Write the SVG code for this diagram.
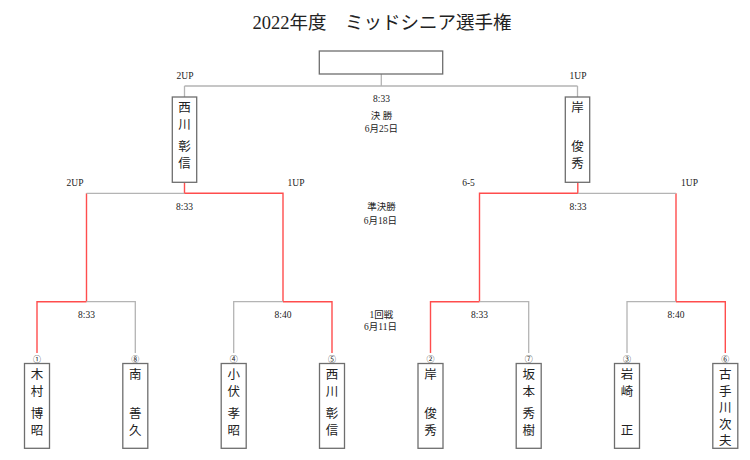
<svg xmlns="http://www.w3.org/2000/svg" width="750" height="460" viewBox="0 0 750 460">
<style>
.bg{fill:#ffffff}
.box{fill:#ffffff;stroke:#6e6e6e;stroke-width:1.3}
.win{stroke:#ff4d4d;stroke-width:1.4;fill:none}
.lose{stroke:#b4b4b4;stroke-width:1.3;fill:none}
.t{font-family:"Liberation Serif","Noto Sans CJK JP",serif;fill:#222;text-anchor:middle}
.title{font-size:18.5px}
.s{font-size:9.5px}
.num{font-size:8px}
.nm{font-family:"Noto Sans CJK JP",sans-serif;font-size:12.5px;fill:#222;text-anchor:middle;writing-mode:vertical-rl}
</style>
<rect class="bg" x="0" y="0" width="750" height="460"/>
<text class="t title" x="382" y="29">2022年度　ミッドシニア選手権</text>

<g id="connectors">
<path class="lose" d="M381.3 74V86M184.5 86H577.5M184.5 86V97M577.5 86V97"/>
<path class="win" d="M184.5 182.3V193.3H283V301.7M86.5 193.3V301.7"/>
<path class="lose" d="M86.5 193.3H184.5"/>
<path class="win" d="M577.8 182.3V193.3H479.5V301.7M676 193.3V301.7"/>
<path class="lose" d="M577.8 193.3H676"/>
<path class="win" d="M37 353V301.7H86.5"/>
<path class="lose" d="M86.5 301.7H135.3V353"/>
<path class="lose" d="M233.7 353V301.7H283"/>
<path class="win" d="M283 301.7H332V353"/>
<path class="win" d="M430.5 353V301.7H479.5"/>
<path class="lose" d="M479.5 301.7H528.7V353"/>
<path class="lose" d="M627 353V301.7H676"/>
<path class="win" d="M676 301.7H725.3V353"/>
</g>

<g id="labels">
<text class="t s" x="185" y="78.5">2UP</text>
<text class="t s" x="578" y="78.5">1UP</text>
<text class="t s" x="381.5" y="102">8:33</text>
<text class="t s" x="381.5" y="119">決 勝</text>
<text class="t s" x="381.5" y="131.5">6月25日</text>
<text class="t s" x="75" y="186">2UP</text>
<text class="t s" x="296" y="186">1UP</text>
<text class="t s" x="468.5" y="186">6-5</text>
<text class="t s" x="689.5" y="186">1UP</text>
<text class="t s" x="184.5" y="209.5">8:33</text>
<text class="t s" x="578" y="209.5">8:33</text>
<text class="t s" x="381.5" y="209.5">準決勝</text>
<text class="t s" x="380.5" y="223.5">6月18日</text>
<text class="t s" x="86.5" y="317.5">8:33</text>
<text class="t s" x="283" y="317.5">8:40</text>
<text class="t s" x="479.5" y="317.5">8:33</text>
<text class="t s" x="676" y="317.5">8:40</text>
<text class="t s" x="381.5" y="317.5">1回戦</text>
<text class="t s" x="380.5" y="330">6月11日</text>
</g>

<g id="champion"><rect class="box" x="319.3" y="51" width="123.4" height="23"/></g>

<g id="final-left">
<rect class="box" x="172.3" y="97" width="24.4" height="85.3"/>
<text class="nm"><tspan x="184.5" y="107">西</tspan><tspan x="184.5" y="124">川</tspan><tspan x="184.5" y="146">彰</tspan><tspan x="184.5" y="163">信</tspan></text>
</g>
<g id="final-right">
<rect class="box" x="565.3" y="97" width="24.4" height="85.3"/>
<text class="nm"><tspan x="577.5" y="107">岸</tspan><tspan x="577.5" y="146">俊</tspan><tspan x="577.5" y="163">秀</tspan></text>
</g>

<g id="p1">
<text class="t num" x="37" y="362">①</text>
<rect class="box" x="24.5" y="363.5" width="25" height="84.8"/>
<text class="nm"><tspan x="37" y="374">木</tspan><tspan x="37" y="391">村</tspan><tspan x="37" y="413">博</tspan><tspan x="37" y="430">昭</tspan></text>
</g>
<g id="p8">
<text class="t num" x="135.3" y="362">⑧</text>
<rect class="box" x="122.8" y="363.5" width="25" height="84.8"/>
<text class="nm"><tspan x="135.3" y="374">南</tspan><tspan x="135.3" y="413">善</tspan><tspan x="135.3" y="430">久</tspan></text>
</g>
<g id="p4">
<text class="t num" x="233.7" y="362">④</text>
<rect class="box" x="221.2" y="363.5" width="25" height="84.8"/>
<text class="nm"><tspan x="233.7" y="374">小</tspan><tspan x="233.7" y="391">伏</tspan><tspan x="233.7" y="413">孝</tspan><tspan x="233.7" y="430">昭</tspan></text>
</g>
<g id="p5">
<text class="t num" x="332" y="362">⑤</text>
<rect class="box" x="319.5" y="363.5" width="25" height="84.8"/>
<text class="nm"><tspan x="332" y="374">西</tspan><tspan x="332" y="391">川</tspan><tspan x="332" y="413">彰</tspan><tspan x="332" y="430">信</tspan></text>
</g>
<g id="p2">
<text class="t num" x="430.5" y="362">②</text>
<rect class="box" x="418" y="363.5" width="25" height="84.8"/>
<text class="nm"><tspan x="430.5" y="374">岸</tspan><tspan x="430.5" y="413">俊</tspan><tspan x="430.5" y="430">秀</tspan></text>
</g>
<g id="p7">
<text class="t num" x="528.7" y="362">⑦</text>
<rect class="box" x="516.2" y="363.5" width="25" height="84.8"/>
<text class="nm"><tspan x="528.7" y="374">坂</tspan><tspan x="528.7" y="391">本</tspan><tspan x="528.7" y="413">秀</tspan><tspan x="528.7" y="430">樹</tspan></text>
</g>
<g id="p3">
<text class="t num" x="627" y="362">③</text>
<rect class="box" x="614.5" y="363.5" width="25" height="84.8"/>
<text class="nm"><tspan x="627" y="374">岩</tspan><tspan x="627" y="391">崎</tspan><tspan x="627" y="430">正</tspan></text>
</g>
<g id="p6">
<text class="t num" x="725.3" y="362">⑥</text>
<rect class="box" x="712.8" y="363.5" width="25" height="84.8"/>
<text class="nm"><tspan x="725.3" y="374">古</tspan><tspan x="725.3" y="390.7">手</tspan><tspan x="725.3" y="407.3">川</tspan><tspan x="725.3" y="424">次</tspan><tspan x="725.3" y="440.7">夫</tspan></text>
</g>
</svg>
